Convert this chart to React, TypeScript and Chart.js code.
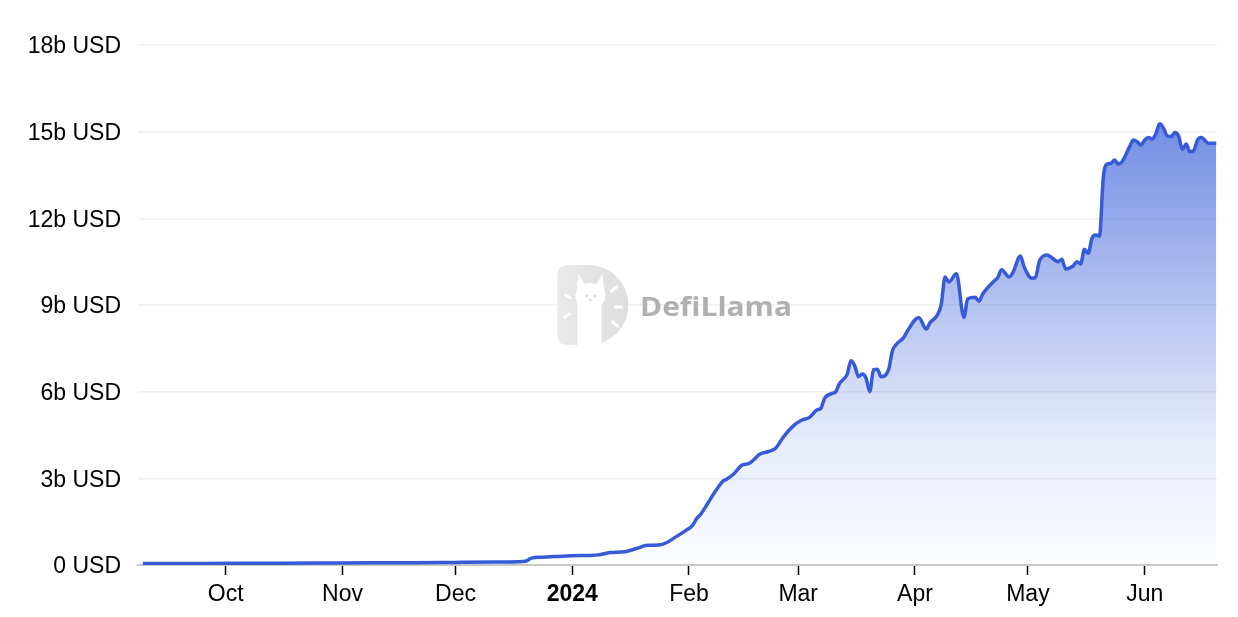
import React, { useEffect, useRef } from 'react';
import { Chart, registerables } from 'chart.js';

Chart.register(...registerables);

// ---- data (TVL in billions of USD) ----
const dates: string[] = [
  '2023-09-09', '2023-09-25', '2023-10-15', '2023-11-01', '2023-11-20', '2023-12-01', '2023-12-12', '2023-12-19',
  '2023-12-20', '2023-12-21', '2023-12-24', '2023-12-27', '2024-01-01', '2024-01-05', '2024-01-08', '2024-01-11',
  '2024-01-15', '2024-01-18', '2024-01-21', '2024-01-24', '2024-01-26', '2024-01-28', '2024-01-31', '2024-02-02',
  '2024-02-03', '2024-02-04', '2024-02-06', '2024-02-08', '2024-02-10', '2024-02-11', '2024-02-13', '2024-02-15',
  '2024-02-17', '2024-02-20', '2024-02-22', '2024-02-24', '2024-02-26', '2024-02-29', '2024-03-02', '2024-03-04',
  '2024-03-06', '2024-03-07', '2024-03-08', '2024-03-10', '2024-03-11', '2024-03-12', '2024-03-14', '2024-03-15',
  '2024-03-16', '2024-03-17', '2024-03-18', '2024-03-19', '2024-03-20', '2024-03-21', '2024-03-22', '2024-03-23',
  '2024-03-25', '2024-03-26', '2024-03-27', '2024-03-29', '2024-03-30', '2024-04-02', '2024-04-04', '2024-04-05',
  '2024-04-07', '2024-04-08', '2024-04-09', '2024-04-10', '2024-04-12', '2024-04-14', '2024-04-15', '2024-04-17',
  '2024-04-18', '2024-04-19', '2024-04-22', '2024-04-23', '2024-04-24', '2024-04-26', '2024-04-27', '2024-04-29',
  '2024-04-30', '2024-05-02', '2024-05-03', '2024-05-04', '2024-05-06', '2024-05-07', '2024-05-09', '2024-05-10',
  '2024-05-11', '2024-05-13', '2024-05-14', '2024-05-15', '2024-05-16', '2024-05-17', '2024-05-18', '2024-05-19',
  '2024-05-20', '2024-05-21', '2024-05-22', '2024-05-23', '2024-05-24', '2024-05-25', '2024-05-26', '2024-05-28',
  '2024-05-29', '2024-05-30', '2024-05-31', '2024-06-01', '2024-06-02', '2024-06-03', '2024-06-04', '2024-06-05',
  '2024-06-06', '2024-06-07', '2024-06-08', '2024-06-09', '2024-06-10', '2024-06-11', '2024-06-12', '2024-06-13',
  '2024-06-14', '2024-06-15', '2024-06-16', '2024-06-18', '2024-06-20',
];

const tvl: number[] = [
  0.05, 0.055, 0.06, 0.07, 0.08, 0.09, 0.1, 0.12,
  0.15, 0.23, 0.27, 0.29, 0.32, 0.33, 0.35, 0.43,
  0.46, 0.57, 0.68, 0.69, 0.77, 0.93, 1.18, 1.38,
  1.6, 1.74, 2.14, 2.55, 2.9, 2.97, 3.17, 3.45,
  3.52, 3.85, 3.92, 4.04, 4.42, 4.85, 5.02, 5.11,
  5.37, 5.42, 5.77, 5.94, 6.0, 6.29, 6.6, 7.07,
  6.9, 6.52, 6.61, 6.47, 6.0, 6.76, 6.78, 6.52,
  6.76, 7.41, 7.63, 7.87, 8.1, 8.57, 8.17, 8.39,
  8.66, 9.04, 9.97, 9.8, 10.08, 8.57, 9.21, 9.27,
  9.13, 9.38, 9.83, 9.95, 10.22, 9.97, 10.12, 10.7,
  10.32, 9.93, 9.95, 10.5, 10.73, 10.67, 10.5, 10.58,
  10.25, 10.35, 10.5, 10.42, 10.93, 10.79, 11.31, 11.42,
  11.39, 13.4, 13.88, 13.9, 14.02, 13.88, 13.96, 14.48,
  14.71, 14.65, 14.54, 14.71, 14.8, 14.74, 14.94, 15.27,
  15.12, 14.85, 14.83, 14.97, 14.85, 14.39, 14.57, 14.31,
  14.34, 14.71, 14.8, 14.6, 14.6,
];

const monthTickDates: string[] = [
  '2023-10-01', '2023-11-01', '2023-12-01', '2024-01-01', '2024-02-01',
  '2024-03-01', '2024-04-01', '2024-05-01', '2024-06-01',
];
const monthTickLabels: string[] = ['Oct', 'Nov', 'Dec', '2024', 'Feb', 'Mar', 'Apr', 'May', 'Jun'];
const boldTickLabels: string[] = ['2024'];

const yMin = 0;
const yMax = 18;
const yStep = 3;

const axisStartDate = '2023-09-09';
const axisEndDate = '2024-06-20';

const DAY = 86400000;
const toDay = (s: string): number => {
  const [y, m, d] = s.split('-').map(Number);
  return Date.UTC(y, m - 1, d) / DAY;
};

const LINE_COLOR = '#355bd8';
const FONT_FAMILY = '"Liberation Sans", Arial, Helvetica, sans-serif';

const watermarkPlugin = {
  id: 'defillamaWatermark',
  beforeDatasetsDraw(chart: any) {
    const { ctx, chartArea } = chart;
    const cx = (chartArea.left + chartArea.right) / 2;
    const cy = (chartArea.top + chartArea.bottom) / 2;
    ctx.save();

    // "D" logo shape
    const L = cx - 120;
    const T = cy - 40;
    const H = 80;
    const R = 40;
    const r = 10;
    const arcCx = L + 31;
    ctx.beginPath();
    ctx.moveTo(L + r, T);
    ctx.lineTo(arcCx, T);
    ctx.arc(arcCx, cy, R, -Math.PI / 2, Math.PI / 2);
    ctx.lineTo(L + r, T + H);
    ctx.quadraticCurveTo(L, T + H, L, T + H - r);
    ctx.lineTo(L, T + r);
    ctx.quadraticCurveTo(L, T, L + r, T);
    ctx.closePath();
    const g = ctx.createLinearGradient(L, 0, L + 71, 0);
    g.addColorStop(0, '#e9e9e9');
    g.addColorStop(1, '#dedede');
    ctx.fillStyle = g;
    ctx.fill();

    // llama silhouette (white)
    ctx.fillStyle = '#ffffff';
    const hx = L + 33;
    const hy = cy - 9;
    ctx.beginPath();
    ctx.moveTo(hx - 13, hy + 4);
    ctx.lineTo(hx - 13, T + H);
    ctx.lineTo(hx + 11, T + H);
    ctx.lineTo(hx + 11, hy + 6);
    ctx.closePath();
    ctx.fill();
    ctx.beginPath();
    ctx.ellipse(hx, hy, 15, 13, 0, 0, Math.PI * 2);
    ctx.fill();
    ctx.beginPath();
    ctx.moveTo(hx - 14, hy - 4);
    ctx.lineTo(hx - 12, hy - 22);
    ctx.lineTo(hx - 4, hy - 9);
    ctx.closePath();
    ctx.fill();
    ctx.beginPath();
    ctx.moveTo(hx + 14, hy - 4);
    ctx.lineTo(hx + 12, hy - 22);
    ctx.lineTo(hx + 4, hy - 9);
    ctx.closePath();
    ctx.fill();
    // face details
    ctx.fillStyle = '#d0d0d0';
    ctx.fillRect(hx - 5, hy - 1, 2, 2);
    ctx.fillRect(hx + 3, hy - 1, 2, 2);
    ctx.fillRect(hx - 1, hy + 3, 2, 2);
    // rays
    ctx.strokeStyle = '#ffffff';
    ctx.lineWidth = 3;
    ctx.lineCap = 'round';
    const rays = [
      [-25, -10, -20, -7],
      [-26, 12, -21, 9],
      [21, -14, 26, -18],
      [25, 2, 31, 2],
      [22, 17, 27, 21],
    ];
    rays.forEach(([x1, y1, x2, y2]) => {
      ctx.beginPath();
      ctx.moveTo(hx + x1, cy + y1);
      ctx.lineTo(hx + x2, cy + y2);
      ctx.stroke();
    });

    // text
    ctx.fillStyle = '#b0b0b0';
    ctx.font = `bold 27px "Open Sans", ${FONT_FAMILY}`;
    ctx.textBaseline = 'alphabetic';
    ctx.textAlign = 'left';
    const text = 'DefiLlama';
    const w = ctx.measureText(text).width;
    const targetW = 152;
    ctx.translate(cx - 37.5, cy + 11);
    ctx.scale(targetW / w, 1);
    ctx.fillText(text, 0, 0);
    ctx.restore();
  },
};

export default function App() {
  const canvasRef = useRef<HTMLCanvasElement | null>(null);

  useEffect(() => {
    const canvas = canvasRef.current;
    if (!canvas) return;
    const points = dates.map((d, i) => ({ x: toDay(d), y: tvl[i] }));
    const tickDays = monthTickDates.map(toDay);

    const chart = new Chart(canvas, {
      type: 'line',
      data: {
        datasets: [
          {
            data: points,
            borderColor: LINE_COLOR,
            borderWidth: 3.5,
            pointRadius: 0,
            cubicInterpolationMode: 'monotone',
            fill: 'origin',
            backgroundColor: (context: any) => {
              const { chart: c } = context;
              const area = c.chartArea;
              if (!area) return 'rgba(58,95,217,0.3)';
              const grad = c.ctx.createLinearGradient(0, area.top, 0, area.bottom);
              grad.addColorStop(0, 'rgba(58,95,217,0.85)');
              grad.addColorStop(0.16, 'rgba(58,95,217,0.70)');
              grad.addColorStop(0.76, 'rgba(58,95,217,0.12)');
              grad.addColorStop(1, 'rgba(58,95,217,0.02)');
              return grad;
            },
          },
        ],
      },
      options: {
        animation: false,
        responsive: false,
        maintainAspectRatio: false,
        layout: { padding: { top: 45, right: 21, left: 0, bottom: 0 } },
        plugins: { legend: { display: false }, tooltip: { enabled: false } },
        scales: {
          x: {
            type: 'linear',
            min: toDay(axisStartDate) - 1.3,
            max: toDay(axisEndDate) + 0.2,
            afterBuildTicks: (scale: any) => {
              scale.ticks = tickDays.map((v) => ({ value: v }));
            },
            afterFit: (scale: any) => {
              scale.height = 52;
            },
            grid: {
              display: true,
              drawOnChartArea: false,
              drawTicks: true,
              tickLength: 10,
              tickColor: '#000000',
              tickWidth: 1.5,
            },
            border: { display: true, color: '#c9c9c9', width: 2 },
            ticks: {
              autoSkip: false,
              maxRotation: 0,
              padding: 6,
              color: '#000000',
              font: (ctx: any) => ({
                family: FONT_FAMILY,
                size: 23,
                weight: ctx.tick && boldTickLabels.includes(ctx.tick.label) ? 'bold' : 'normal',
              }),
              callback: (value: any) => {
                const idx = tickDays.indexOf(Number(value));
                return idx >= 0 ? monthTickLabels[idx] : '';
              },
            },
          },
          y: {
            min: yMin,
            max: yMax,
            afterFit: (scale: any) => {
              scale.width = 138;
            },
            grid: { color: '#f0f0f0', lineWidth: 1.5, drawTicks: false },
            border: { display: false },
            ticks: {
              stepSize: yStep,
              padding: 17,
              labelOffset: 2,
              color: '#000000',
              font: { family: FONT_FAMILY, size: 23 },
              callback: (value: any) => (Number(value) === 0 ? '0 USD' : `${value}b USD`),
            },
          },
        },
      },
      plugins: [watermarkPlugin],
    } as any);

    return () => chart.destroy();
  }, []);

  return (
    <div style={{ position: 'fixed', left: 0, top: 0, width: 1238, height: 617, background: '#ffffff' }}>
      <canvas ref={canvasRef} width={1238} height={617} style={{ width: 1238, height: 617, display: 'block' }} />
    </div>
  );
}
